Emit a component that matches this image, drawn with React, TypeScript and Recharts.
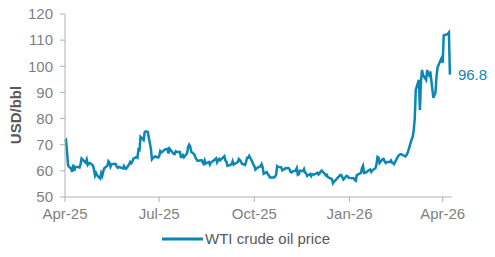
import React from 'react';
import {
  LineChart,
  Line,
  XAxis,
  YAxis,
  Legend,
  LabelList,
} from 'recharts';

// daily WTI closes, Apr-2025 .. Apr-2026
const dates: string[] = [
  '2025-04-01', '2025-04-02', '2025-04-03', '2025-04-04', '2025-04-07', '2025-04-08', '2025-04-09', '2025-04-10',
  '2025-04-11', '2025-04-14', '2025-04-15', '2025-04-16', '2025-04-17', '2025-04-21', '2025-04-22', '2025-04-23',
  '2025-04-24', '2025-04-25', '2025-04-28', '2025-04-29', '2025-04-30',
  '2025-05-01', '2025-05-02', '2025-05-05', '2025-05-06', '2025-05-07', '2025-05-08', '2025-05-09', '2025-05-12',
  '2025-05-13', '2025-05-14', '2025-05-15', '2025-05-16', '2025-05-19', '2025-05-20', '2025-05-21', '2025-05-22',
  '2025-05-23', '2025-05-27', '2025-05-28', '2025-05-29', '2025-05-30',
  '2025-06-02', '2025-06-03', '2025-06-04', '2025-06-05', '2025-06-06', '2025-06-09', '2025-06-10', '2025-06-11',
  '2025-06-12', '2025-06-13', '2025-06-16', '2025-06-17', '2025-06-18', '2025-06-20', '2025-06-23', '2025-06-24',
  '2025-06-25', '2025-06-26', '2025-06-27', '2025-06-30',
  '2025-07-01', '2025-07-02', '2025-07-03', '2025-07-07', '2025-07-08', '2025-07-09', '2025-07-10', '2025-07-11',
  '2025-07-14', '2025-07-15', '2025-07-16', '2025-07-17', '2025-07-18', '2025-07-21', '2025-07-22', '2025-07-23',
  '2025-07-24', '2025-07-25', '2025-07-28', '2025-07-29', '2025-07-30', '2025-07-31',
  '2025-08-01', '2025-08-04', '2025-08-05', '2025-08-06', '2025-08-07', '2025-08-08', '2025-08-11', '2025-08-12',
  '2025-08-13', '2025-08-14', '2025-08-15', '2025-08-18', '2025-08-19', '2025-08-20', '2025-08-21', '2025-08-22',
  '2025-08-25', '2025-08-26', '2025-08-27', '2025-08-28', '2025-08-29',
  '2025-09-02', '2025-09-03', '2025-09-04', '2025-09-05', '2025-09-08', '2025-09-09', '2025-09-10', '2025-09-11',
  '2025-09-12', '2025-09-15', '2025-09-16', '2025-09-17', '2025-09-18', '2025-09-19', '2025-09-22', '2025-09-23',
  '2025-09-24', '2025-09-25', '2025-09-26', '2025-09-29', '2025-09-30',
  '2025-10-01', '2025-10-02', '2025-10-03', '2025-10-06', '2025-10-07', '2025-10-08', '2025-10-09', '2025-10-10',
  '2025-10-13', '2025-10-14', '2025-10-15', '2025-10-16', '2025-10-17', '2025-10-20', '2025-10-21', '2025-10-22',
  '2025-10-23', '2025-10-24', '2025-10-27', '2025-10-28', '2025-10-29', '2025-10-30', '2025-10-31',
  '2025-11-03', '2025-11-04', '2025-11-05', '2025-11-06', '2025-11-07', '2025-11-10', '2025-11-11', '2025-11-12',
  '2025-11-13', '2025-11-14', '2025-11-17', '2025-11-18', '2025-11-19', '2025-11-20', '2025-11-21', '2025-11-24',
  '2025-11-25', '2025-11-26', '2025-11-28',
  '2025-12-01', '2025-12-02', '2025-12-03', '2025-12-04', '2025-12-05', '2025-12-08', '2025-12-09', '2025-12-10',
  '2025-12-11', '2025-12-12', '2025-12-15', '2025-12-16', '2025-12-17', '2025-12-18', '2025-12-19', '2025-12-22',
  '2025-12-23', '2025-12-24', '2025-12-26', '2025-12-29', '2025-12-30', '2025-12-31',
  '2026-01-02', '2026-01-05', '2026-01-06', '2026-01-07', '2026-01-08', '2026-01-09', '2026-01-12', '2026-01-13',
  '2026-01-14', '2026-01-15', '2026-01-16', '2026-01-20', '2026-01-21', '2026-01-22', '2026-01-23', '2026-01-26',
  '2026-01-27', '2026-01-28', '2026-01-29', '2026-01-30',
  '2026-02-02', '2026-02-03', '2026-02-04', '2026-02-05', '2026-02-06', '2026-02-09', '2026-02-10', '2026-02-11',
  '2026-02-12', '2026-02-13', '2026-02-17', '2026-02-18', '2026-02-19', '2026-02-20', '2026-02-23', '2026-02-24',
  '2026-02-25', '2026-02-26', '2026-02-27',
  '2026-03-02', '2026-03-03', '2026-03-04', '2026-03-05', '2026-03-06', '2026-03-09', '2026-03-10', '2026-03-11',
  '2026-03-12', '2026-03-13', '2026-03-16', '2026-03-17', '2026-03-18', '2026-03-19', '2026-03-20', '2026-03-23',
  '2026-03-24', '2026-03-25', '2026-03-26', '2026-03-27', '2026-03-30', '2026-03-31',
  '2026-04-01', '2026-04-02', '2026-04-06', '2026-04-07', '2026-04-08',
];

const wti: number[] = [
  71.2, 71.7, 67.0, 62.0, 60.7, 59.6, 62.4, 60.1,
  61.5, 61.5, 61.3, 62.5, 64.7, 63.1, 64.3, 62.3,
  62.8, 63.0, 62.1, 60.4, 58.2,
  59.2, 58.3, 57.1, 59.1, 58.1, 59.9, 61.0, 62.0,
  63.7, 63.2, 61.6, 62.5, 62.7, 62.6, 61.6, 61.2,
  61.5, 60.9, 61.8, 60.9, 60.8,
  62.5, 63.4, 62.9, 63.4, 64.6, 65.3, 65.0, 68.2,
  68.0, 73.0, 71.8, 74.8, 75.1, 74.9, 68.5, 64.4,
  64.9, 65.2, 65.5, 65.1,
  65.5, 67.5, 67.0, 68.3, 68.3, 68.4, 66.6, 68.5,
  67.0, 66.5, 66.4, 67.5, 67.3, 67.2, 65.3, 65.3,
  66.0, 65.2, 66.7, 69.2, 70.0, 69.3,
  67.3, 66.3, 65.2, 64.4, 63.9, 63.9, 64.1, 63.2,
  62.7, 64.0, 62.8, 63.4, 62.4, 63.2, 63.5, 63.7,
  64.8, 63.3, 64.2, 64.6, 64.0,
  65.6, 64.0, 63.5, 61.9, 62.3, 62.6, 63.7, 62.4,
  62.7, 63.3, 64.5, 64.1, 63.6, 62.7, 62.3, 63.4,
  65.0, 65.0, 65.7, 63.5, 62.4,
  61.8, 60.5, 60.9, 61.7, 61.7, 62.6, 61.5, 58.9,
  59.5, 58.7, 58.3, 57.5, 57.5, 57.5, 57.8, 58.5,
  61.8, 61.5, 61.3, 60.2, 60.5, 60.6, 61.0,
  61.1, 60.6, 59.6, 59.4, 59.8, 60.1, 61.0, 58.5,
  58.7, 60.1, 59.9, 60.7, 59.4, 59.1, 58.1, 58.8,
  58.0, 58.7, 58.6,
  59.3, 58.6, 59.0, 59.7, 60.1, 58.9, 58.3, 58.5,
  57.6, 57.4, 56.8, 55.3, 55.9, 56.2, 56.7, 58.0,
  58.4, 58.4, 56.7, 58.1, 58.0, 57.4,
  57.3, 57.2, 56.5, 56.2, 58.4, 58.6, 59.2, 61.0,
  61.9, 59.2, 59.2, 60.3, 60.5, 59.6, 60.2, 61.0,
  62.5, 65.3, 65.0, 63.0,
  64.5, 64.5, 63.5, 63.0, 63.4, 63.4, 64.0, 63.2,
  63.0, 62.6, 65.7, 66.0, 66.4, 66.4, 65.7, 65.5,
  66.0, 66.8, 68.0,
  72.0, 73.0, 75.6, 80.0, 91.0, 94.8, 83.3, 94.0,
  98.6, 96.7, 94.8, 98.6, 97.0, 96.5, 98.0, 87.9,
  89.0, 89.8, 96.0, 99.5, 102.4, 103.2,
  101.3, 111.8, 112.4, 112.9, 96.8,
];

const tickDates: string[] = ['2025-04-01', '2025-07-01', '2025-10-01', '2026-01-01', '2026-04-01'];
const tickLabels: string[] = ['Apr-25', 'Jul-25', 'Oct-25', 'Jan-26', 'Apr-26'];
const yTicks: number[] = [50, 60, 70, 80, 90, 100, 110, 120];

const DAY = 86400000;
const start = Date.UTC(2025, 3, 1);
const dayOf = (s: string) => {
  const [y, m, d] = s.split('-').map(Number);
  return Math.round((Date.UTC(y, m - 1, d) - start) / DAY);
};

const data = dates.map((d, i) => ({ day: dayOf(d), price: wti[i] }));
const xTicks = tickDates.map(dayOf);

const BLUE = '#0C86B4';
const FONT = 'Liberation Sans, Arial, sans-serif';

const LegendBox = () => (
  <div style={{ display: 'flex', alignItems: 'center', fontFamily: FONT, fontSize: 15, color: '#595959' }}>
    <svg width={42} height={6} style={{ marginRight: 1 }}>
      <line x1={0} y1={3} x2={41} y2={3} stroke={BLUE} strokeWidth={3} />
    </svg>
    <span>WTI crude oil price</span>
  </div>
);

export default function App() {
  const last = data.length - 1;
  return (
    <div>
      <style>{'body{margin:0}'}</style>
      <LineChart width={495} height={257} data={data} margin={{ top: 14, right: 43, left: 0, bottom: 30 }}>
        <XAxis
          dataKey="day"
          type="number"
          domain={[0, 374]}
          ticks={xTicks}
          tickFormatter={(v: number) => tickLabels[xTicks.indexOf(v)] ?? ''}
          stroke="#B0B0B0"
          tickSize={5}
          tickMargin={6}
          height={30}
          tick={{ fill: '#7F7F7F', fontSize: 15, fontFamily: FONT }}
        />
        <YAxis
          domain={[50, 120]}
          ticks={yTicks}
          width={65}
          stroke="#B0B0B0"
          tickSize={5}
          tickMargin={7}
          tick={{ fill: '#7F7F7F', fontSize: 15, fontFamily: FONT }}
          label={{
            content: () => (
              <text
                x={21}
                y={115}
                transform="rotate(-90 21 115)"
                textAnchor="middle"
                fill="#595959"
                fontSize={15}
                fontWeight="bold"
                fontFamily={FONT}
              >
                USD/bbl
              </text>
            ),
          }}
        />
        <Legend
          verticalAlign="middle"
          align="center"
          content={() => <LegendBox />}
          wrapperStyle={{ top: 230, left: 162, width: 'auto' }}
        />
        <Line
          dataKey="price"
          name="WTI crude oil price"
          stroke={BLUE}
          strokeWidth={2.5}
          dot={false}
          isAnimationActive={false}
        >
          <LabelList
            dataKey="price"
            content={(p: any) =>
              p.index === last ? (
                <text x={p.x + 8} y={p.y} dy="0.355em" fill={BLUE} fontSize={15} fontFamily={FONT}>
                  {Number(p.value).toFixed(1)}
                </text>
              ) : null
            }
          />
        </Line>
      </LineChart>
    </div>
  );
}
